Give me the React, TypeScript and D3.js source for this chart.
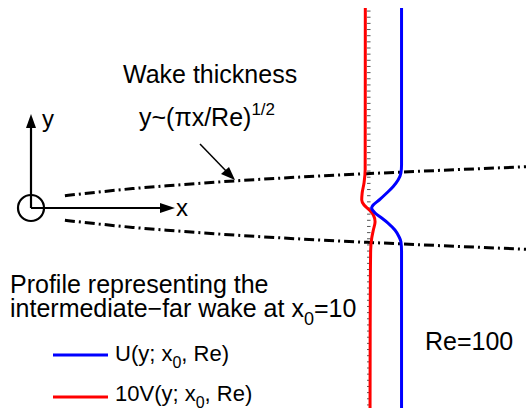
import React from "react";
import * as d3 from "d3";

const W = 526;
const H = 411;

// Wake thickness (half-width) along x
const wakeX = [1, 2, 3, 4, 6, 8, 10, 12, 14.6];
const wakeHalf = [0.2, 0.26, 0.315, 0.36, 0.44, 0.505, 0.56, 0.61, 0.67];

// Profile at x0 = 10
const x0 = 10;
const uY = [3.25, 1.2, 0.7, 0.57, 0.455, 0.346, 0.244, 0.13, 0.049, 0, -0.081, -0.163, -0.244, -0.358, -0.467, -0.548, -0.7, -1.2, -3.25];
const uVal = [1, 1, 1, 0.98, 0.89, 0.73, 0.53, 0.29, 0.1, 0.05, 0.16, 0.37, 0.57, 0.79, 0.92, 0.98, 1, 1, 1];
const vY = [3.25, 0.62, 0.41, 0.244, 0.13, 0.049, -0.033, -0.114, -0.223, -0.358, -0.488, -0.683, -1.2, -3.25];
const v10 = [-0.15, -0.155, -0.19, -0.25, -0.264, -0.19, -0.02, 0.105, 0.16, 0.105, 0.054, 0.02, 0.01, 0.0];

const FONT = "'Liberation Sans', Arial, Helvetica, sans-serif";

export default function App() {
  const xScale = d3.scaleLinear().domain([0, 14.6]).range([31, 526]);
  const yScale = d3.scaleLinear().domain([-3.25, 3.25]).range([408, 8]);
  const base = xScale(x0);
  const uScale = d3.scaleLinear().domain([0, 1]).range([base, base + 31.5]);

  const wakeLine = d3
    .line<number>()
    .x((_, i) => xScale(wakeX[i]))
    .y((d) => yScale(d))
    .curve(d3.curveMonotoneX);
  const upper = wakeLine(wakeHalf) || "";
  const lower = wakeLine(wakeHalf.map((h) => -h)) || "";

  const uLine = d3
    .line<number>()
    .x((d) => uScale(d))
    .y((_, i) => yScale(uY[i]))
    .curve(d3.curveMonotoneY);
  const vLine = d3
    .line<number>()
    .x((d) => uScale(d))
    .y((_, i) => yScale(vY[i]))
    .curve(d3.curveMonotoneY);

  const ticks = d3.range(-32, 33).map((k) => k / 10);

  const ox = xScale(0);
  const oy = yScale(0);

  return (
    <svg width={W} height={H} style={{ position: "absolute", left: 0, top: 0 }} fontFamily={FONT}>
      <rect width={W} height={H} fill="white" />
      {/* profile ticks */}
      {ticks.map((t, i) => (
        <line key={i} x1={base - 3} x2={base + 0.5} y1={yScale(t)} y2={yScale(t)} stroke="#555" strokeWidth={1} />
      ))}
      {/* wake thickness lines */}
      <path d={upper} fill="none" stroke="black" strokeWidth={3} strokeDasharray="10,4,2,4" />
      <path d={lower} fill="none" stroke="black" strokeWidth={3} strokeDasharray="10,4,2,4" />
      {/* profiles */}
      <path d={vLine(v10) || ""} fill="none" stroke="#ff0000" strokeWidth={3} />
      <path d={uLine(uVal) || ""} fill="none" stroke="#0000ff" strokeWidth={3} />
      {/* origin symbol */}
      <circle cx={ox} cy={oy} r={13} fill="none" stroke="black" strokeWidth={2.2} />
      <line x1={ox} y1={oy} x2={ox} y2={125} stroke="black" strokeWidth={2.2} />
      <polygon points={`${ox},114 ${ox - 5},128 ${ox + 5},128`} fill="black" />
      <line x1={ox} y1={oy} x2={162} y2={oy} stroke="black" strokeWidth={2.2} />
      <polygon points={`175,${oy} 160,${oy - 5} 160,${oy + 5}`} fill="black" />
      <text x={42} y={127} fontSize={24}>y</text>
      <text x={176} y={216} fontSize={24}>x</text>
      {/* annotation */}
      <text x={123} y={83} fontSize={25}>Wake thickness</text>
      <text x={139} y={126} fontSize={25}>
        y~(πx/Re)
        <tspan fontSize={17} dy={-11}>1/2</tspan>
      </text>
      <line x1={200} y1={144} x2={228} y2={173} stroke="black" strokeWidth={1.5} />
      <polygon points="235,180 221,174 229,167" fill="black" />
      {/* description */}
      <text x={10} y={293} fontSize={25}>Profile representing the</text>
      <text x={10} y={317} fontSize={25}>
        intermediate−far wake at x
        <tspan fontSize={18} dy={8}>0</tspan>
        <tspan dy={-8}>=10</tspan>
      </text>
      <text x={425} y={350} fontSize={25}>Re=100</text>
      {/* legend */}
      <line x1={53} x2={108} y1={355} y2={355} stroke="#0000ff" strokeWidth={3} />
      <text x={115} y={361} fontSize={22}>
        U(y; x<tspan fontSize={16} dy={7}>0</tspan>
        <tspan dy={-7}>, Re)</tspan>
      </text>
      <line x1={53} x2={108} y1={397} y2={397} stroke="#ff0000" strokeWidth={3} />
      <text x={115} y={401} fontSize={22}>
        10V(y; x<tspan fontSize={16} dy={7}>0</tspan>
        <tspan dy={-7}>, Re)</tspan>
      </text>
    </svg>
  );
}
